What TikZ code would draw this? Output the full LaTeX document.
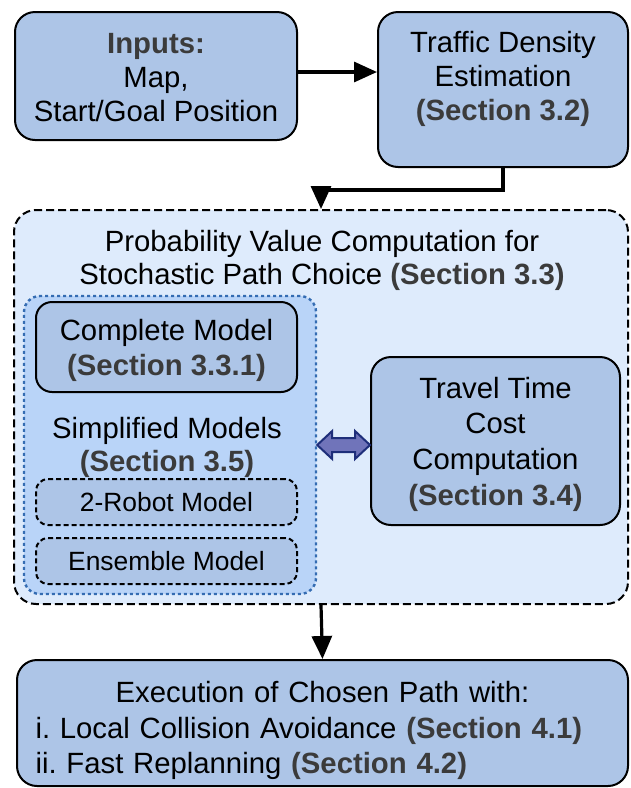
\documentclass[tikz,border=0pt]{standalone}
\usepackage{fontspec}
\setmainfont{Liberation Sans}
\usetikzlibrary{arrows.meta}
\usetikzlibrary{calc}

\definecolor{boxBlue}{RGB}{173,197,231}
\definecolor{paleBlue}{RGB}{222,235,252}
\definecolor{midBlue}{RGB}{185,212,248}
\definecolor{dotBlue}{RGB}{52,108,178}
\definecolor{secGray}{RGB}{59,59,59}
\definecolor{arrowFill}{RGB}{112,116,186}
\definecolor{arrowLine}{RGB}{30,46,122}
\newcommand{\sect}[1]{{\bfseries\color{secGray}#1}}
\frenchspacing

\begin{document}
\begin{tikzpicture}[x = 1pt, y = -1pt]
	\tikzstyle{boxStyle} = [draw, line width = 2pt, fill = boxBlue, rounded corners = 20pt, inner sep = 0pt]
	\tikzstyle{outerStyle} = [draw, line width = 2pt, dash pattern = on 8pt off 4pt, fill = paleBlue, rounded corners = 22pt, inner sep = 0pt]
	\tikzstyle{groupStyle} = [draw = dotBlue, line width = 2.4pt, dash pattern = on 3pt off 3pt, fill = midBlue, rounded corners = 16pt, inner sep = 0pt]
	\tikzstyle{modelStyle} = [draw, line width = 2pt, dash pattern = on 5pt off 3pt, fill = boxBlue, rounded corners = 12pt, inner sep = 0pt, font = \fontsize{26.4}{32}\selectfont]
	\tikzstyle{textStyle} = [align = center, inner sep = 0pt, font = \fontsize{29.3}{34}\selectfont]
	\tikzstyle{flowStyle} = [line width = 3.2pt, -{Triangle[length = 23pt, width = 20pt]}]
	\tikzstyle{swapStyle} = [draw = arrowLine, fill = arrowFill, line width = 2pt, line join = miter]
	\useasboundingbox (0,0) rectangle (630,788);
	\node[boxStyle, minimum width = 282pt, minimum height = 128pt] (inputs) at (156,76) {};
	\node[textStyle] (inputsText) at (inputs.center) [yshift = -2pt] {\sect{Inputs:}\\Map,\\Start/Goal Position};
	\node[boxStyle, minimum width = 250pt, minimum height = 155pt] (traffic) at (503,89.5) {};
	\node[textStyle] (trafficText) at (traffic.center) [yshift = 10.5pt] {Traffic Density\\Estimation\\\sect{(Section 3.2)}};
	\node[outerStyle, minimum width = 614pt, minimum height = 394pt] (probBox) at (321,407) {};
	\node[textStyle, font = \fontsize{29.3}{33}\selectfont] (probTitle) at (322,260.5) {Probability Value Computation for\\Stochastic Path Choice \sect{(Section 3.3)}};
	\node[groupStyle, minimum width = 292pt, minimum height = 298pt] (simpBox) at (170,445) {};
	\node[boxStyle, rounded corners = 16pt, minimum width = 261pt, minimum height = 90pt] (completeModel) at (166.5,347) {};
	\node[textStyle, font = \fontsize{29.3}{35}\selectfont] (completeText) at (completeModel.center) [yshift = -3.5pt] {Complete Model\\\sect{(Section 3.3.1)}};
	\node[textStyle, font = \fontsize{29.3}{33}\selectfont] (simpTitle) at (167,447) {Simplified Models\\\sect{(Section 3.5)}};
	\node[modelStyle, minimum width = 261pt, minimum height = 46pt] (robotModel) at (166.5,502) {2-Robot Model};
	\node[modelStyle, minimum width = 261pt, minimum height = 46pt] (ensembleModel) at (166.5,561) {Ensemble Model};
	\node[boxStyle, minimum width = 249pt, minimum height = 168pt] (travelBox) at (495.5,441) {};
	\node[textStyle, font = \fontsize{29.3}{35.7}\selectfont] (travelText) at (travelBox.center) [yshift = -3pt] {Travel Time\\Cost\\Computation\\\sect{(Section 3.4)}};
	\node[boxStyle, minimum width = 611pt, minimum height = 126pt] (execBox) at (322.5,723) {};
	\node[textStyle, align = left, text width = 574pt, font = \fontsize{29.3}{35.5}\selectfont] (execText) at (execBox.center) [yshift = -7.5pt] {\makebox[574pt][c]{Execution of Chosen Path with:}\\i. Local Collision Avoidance \sect{(Section 4.1)}\\ii. Fast Replanning \sect{(Section 4.2)}};
	% double arrow between the model group and the cost box
	\coordinate (swapL) at (simpBox.east);
	\coordinate (swapR) at (travelBox.west |- simpBox.east);
	\draw[swapStyle] (swapL) -- ($(swapL)+(15,-14)$) -- ($(swapL)+(15,-7)$) -- ($(swapR)+(-15,-7)$) -- ($(swapR)+(-15,-14)$) -- (swapR)
		-- ($(swapR)+(-15,14)$) -- ($(swapR)+(-15,7)$) -- ($(swapL)+(15,7)$) -- ($(swapL)+(15,14)$) -- cycle;
	\draw[flowStyle] (inputs.east |- 0,72) -- (traffic.west |- 0,72);
	\draw[flowStyle] (traffic.south) |- (probBox.north |- 0,190) -- (probBox.north);
	\draw[flowStyle] (probBox.south) -- (execBox.north);
\end{tikzpicture}
\end{document}
